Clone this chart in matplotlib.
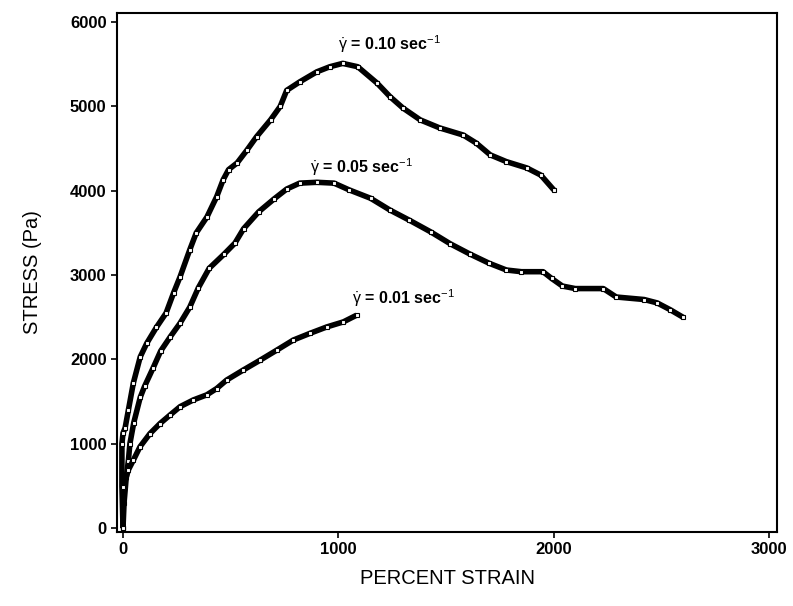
import numpy as np
import matplotlib
matplotlib.use("Agg")
import matplotlib.pyplot as plt

plt.rcParams['font.family'] = ['Liberation Sans', 'DejaVu Sans']
plt.rcParams['mathtext.fontset'] = 'custom'
plt.rcParams['mathtext.rm'] = 'Liberation Sans'
plt.rcParams['mathtext.it'] = 'Liberation Sans'
plt.rcParams['mathtext.bf'] = 'Liberation Sans:bold'

# strain (%) / stress (Pa)
strain_010 = [0, -5, -5, 0, 10, 25, 48, 80, 110, 155, 200, 235, 265, 310, 340,
              390, 435, 465, 490, 530, 575, 620, 685, 730, 760, 820, 900, 960,
              1020, 1090, 1180, 1240, 1300, 1380, 1470, 1580, 1640, 1705, 1780,
              1875, 1940, 2000]
stress_010 = [0, 500, 1000, 1125, 1190, 1400, 1720, 2030, 2190, 2380, 2550, 2790,
              2980, 3300, 3500, 3690, 3930, 4130, 4250, 4330, 4480, 4640, 4840,
              5000, 5190, 5290, 5410, 5470, 5510, 5470, 5275, 5115, 4980, 4840,
              4745, 4660, 4565, 4425, 4345, 4270, 4185, 4010]

strain_005 = [0, 5, 15, 25, 32, 50, 80, 100, 140, 175, 220, 265, 310, 350, 400,
              470, 520, 560, 630, 700, 760, 820, 900, 980, 1050, 1150, 1240,
              1330, 1430, 1520, 1610, 1700, 1780, 1850, 1950, 1990, 2040, 2100,
              2230, 2290, 2420, 2480, 2540, 2600]
stress_005 = [0, 300, 600, 800, 1000, 1250, 1550, 1680, 1900, 2100, 2270, 2430,
              2620, 2850, 3080, 3250, 3380, 3550, 3750, 3900, 4020, 4090, 4100,
              4090, 4010, 3910, 3770, 3650, 3510, 3370, 3250, 3140, 3060, 3040,
              3040, 2960, 2870, 2840, 2840, 2740, 2710, 2670, 2590, 2500]

strain_001 = [0, 2, 25, 48, 79, 125, 172, 218, 265, 327, 389, 435, 481, 559, 636,
              714, 791, 869, 946, 1023, 1085]
stress_001 = [0, 490, 690, 805, 965, 1120, 1240, 1340, 1440, 1520, 1580, 1655,
              1755, 1875, 1990, 2110, 2230, 2310, 2385, 2445, 2525]

labels = [r"$\dot{\gamma}$ = 0.10 sec$^{-1}$",
          r"$\dot{\gamma}$ = 0.05 sec$^{-1}$",
          r"$\dot{\gamma}$ = 0.01 sec$^{-1}$"]
label_xy = [(1000, 5740), (870, 4280), (1065, 2730)]

x_ticks = [0, 1000, 2000, 3000]
y_ticks = [0, 1000, 2000, 3000, 4000, 5000, 6000]

fig = plt.figure(figsize=(7.93, 6.06), dpi=100)
ax = fig.add_axes([0.1475, 0.122, 0.8325, 0.8565])

for xs, ys in [(strain_010, stress_010), (strain_005, stress_005),
               (strain_001, stress_001)]:
    ax.plot(xs, ys, color='black', lw=4.0, solid_capstyle='butt',
            solid_joinstyle='round')
    ax.plot(xs, ys, ls='none', marker='s', ms=3.2, mfc='white', mec='black',
            mew=0.8)

for txt, (tx, ty) in zip(labels, label_xy):
    ax.text(tx, ty, txt, fontsize=11.5, fontweight='bold', va='center',
            ha='left')

ax.set_xlim(-28, 3037)
ax.set_ylim(-47, 6107)
ax.set_xticks(x_ticks)
ax.set_yticks(y_ticks)
ax.tick_params(direction='out', length=4, width=1.2, labelsize=12)
for lab in ax.get_xticklabels() + ax.get_yticklabels():
    lab.set_fontweight('bold')
for sp in ax.spines.values():
    sp.set_linewidth(1.5)

ax.set_xlabel('PERCENT STRAIN', fontsize=14.5, labelpad=8)
ax.set_ylabel('STRESS (Pa)', fontsize=14.5, labelpad=20)

fig.savefig('out.png', dpi=100)
